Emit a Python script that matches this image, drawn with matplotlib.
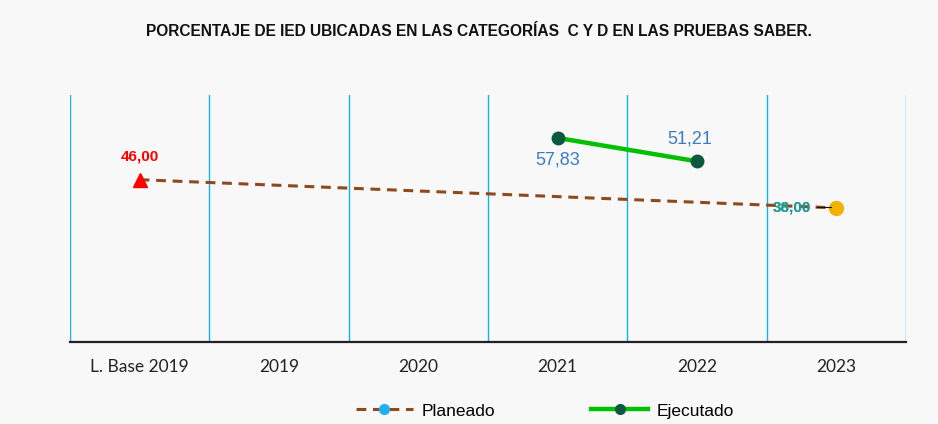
import matplotlib
matplotlib.use("Agg")
import matplotlib.pyplot as plt
from matplotlib.lines import Line2D
import numpy as np

categories = ["L. Base 2019", "2019", "2020", "2021", "2022", "2023"]
planned_x = [0, 5]
planned_vals = [46.00, 38.00]
exec_x = [3, 4]
exec_vals = [57.83, 51.21]

bg = "#F8F8F8"
fig = plt.figure(figsize=(9.38, 4.24), dpi=100, facecolor=bg)
ax = fig.add_axes([70/938, 1-342/424, (906-70)/938, (342-95)/424])
ax.set_facecolor(bg)
ax.set_xlim(-0.5, 5.5)
ax.set_ylim(0, 70)

for xv in np.arange(-0.5, 6.0, 1.0):
    ax.axvline(xv, color="#10B2EE", lw=1.0, zorder=1)

for s in ["top", "right", "left"]:
    ax.spines[s].set_visible(False)
ax.spines["bottom"].set_color("#222222")
ax.spines["bottom"].set_linewidth(1.6)
ax.set_yticks([])
ax.set_xticks(range(len(categories)))
ax.set_xticklabels(categories, fontsize=12.5, family="Lato", color="#222222")
ax.tick_params(axis="x", length=0, pad=12)

# Planeado
ax.plot(planned_x, planned_vals, color="#8E4A1C", lw=2.2, ls=(0, (3.2, 2.2)), zorder=3)
ax.plot([planned_x[0]], [planned_vals[0]], marker="^", color="#FF0000", ms=10, zorder=4, ls="none")
ax.plot([planned_x[1]], [planned_vals[1]], marker="o", color="#F0B400", ms=10, zorder=4, ls="none")
ax.plot([4.86, 4.96], [38.3, 38.3], color="#111111", lw=0.8, zorder=5)

# Ejecutado
ax.plot(exec_x, exec_vals, color="#00C000", lw=3.2, marker="o", ms=9,
        markerfacecolor="#0B5A3E", markeredgecolor="#0B5A3E", zorder=4)

def fmt(v):
    return f"{v:.2f}".replace(".", ",")

ax.annotate(fmt(planned_vals[0]), (planned_x[0], planned_vals[0]), xytext=(0, 12),
            textcoords="offset points", ha="center", va="bottom", fontsize=11,
            fontweight="bold", color="#FF0000", family="Liberation Sans")
ax.annotate(fmt(planned_vals[1]), (planned_x[1], planned_vals[1]), xytext=(-32, 0),
            textcoords="offset points", ha="center", va="center", fontsize=11,
            fontweight="bold", color="#1E9C98", family="Liberation Sans", zorder=6)
ax.annotate("36,00", (planned_x[1], planned_vals[1]), xytext=(-32, 0),
            textcoords="offset points", ha="center", va="center", fontsize=11,
            fontweight="bold", color="#1E9C98", family="Liberation Sans", zorder=6, alpha=0.8)
ax.annotate(fmt(exec_vals[0]), (exec_x[0], exec_vals[0]), xytext=(0, -10),
            textcoords="offset points", ha="center", va="top", fontsize=13,
            color="#3D7CC4", family="Liberation Sans")
ax.annotate(fmt(exec_vals[1]), (exec_x[1], exec_vals[1]), xytext=(-5, 10),
            textcoords="offset points", ha="center", va="bottom", fontsize=13,
            color="#3D7CC4", family="Liberation Sans")

fig.text(479/938, 1-32/424, "PORCENTAJE DE IED UBICADAS EN LAS CATEGORÍAS  C Y D EN LAS PRUEBAS SABER.",
         ha="center", va="center", fontsize=11.2, fontweight="bold", family="Liberation Sans",
         color="#111111")

handles = [
    Line2D([0], [0], color="#8E4A1C", lw=2.2, ls=(0, (3.2, 2.2)), marker="o",
           markerfacecolor="#1EB0F0", markeredgecolor="#1EB0F0", ms=7),
    Line2D([0], [0], color="#00C000", lw=3.2, marker="o",
           markerfacecolor="#0B5A3E", markeredgecolor="#0B5A3E", ms=7),
]
fig.legend(handles, ["Planeado", "Ejecutado"], loc="center", bbox_to_anchor=(545/938, 1-411/424),
           ncol=2, frameon=False, handlelength=3.3, handletextpad=0.5, columnspacing=5.5,
           prop={"family": "Liberation Sans", "size": 12.5})

fig.savefig("out.png", dpi=100, facecolor=bg)
